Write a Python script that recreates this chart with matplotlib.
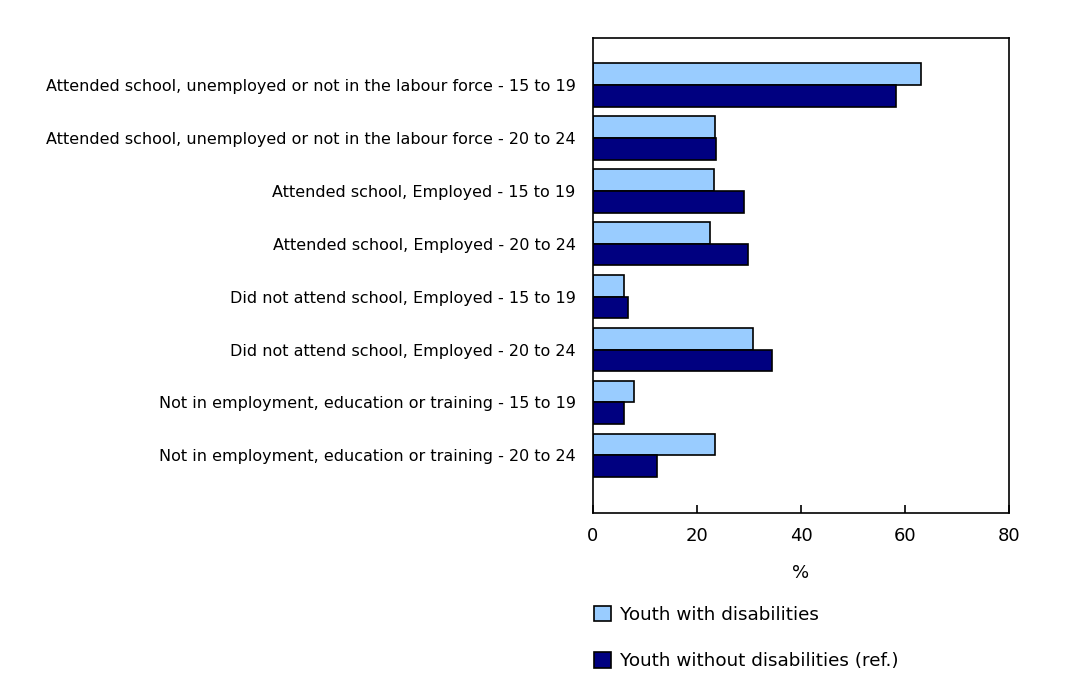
import matplotlib.pyplot as plt
import numpy as np
from matplotlib.patches import Patch

categories = [
    'Attended school, unemployed or not in the labour force - 15 to 19',
    'Attended school, unemployed or not in the labour force - 20 to 24',
    'Attended school, Employed - 15 to 19',
    'Attended school, Employed - 20 to 24',
    'Did not attend school, Employed - 15 to 19',
    'Did not attend school, Employed - 20 to 24',
    'Not in employment, education or training - 15 to 19',
    'Not in employment, education or training - 20 to 24',
]
with_dis = [63.0, 23.5, 23.2, 22.5, 5.9, 30.7, 7.8, 23.4]
without_dis = [58.3, 23.7, 29.1, 29.8, 6.8, 34.5, 6.0, 12.3]
series_names = ['Youth with disabilities', 'Youth without disabilities (ref.)']
light = '#99CCFF'
dark = '#000080'

plt.rcParams['font.family'] = ['DejaVu Sans']

fig = plt.figure(figsize=(10.85, 6.82), dpi=100)
ax = fig.add_axes([593 / 1085, 1 - 513 / 682, 416 / 1085, 475 / 682])

y = np.arange(len(categories))
h = 0.41
ax.barh(y - h / 2, with_dis, height=h, color=light, edgecolor='black', linewidth=1.2)
ax.barh(y + h / 2, without_dis, height=h, color=dark, edgecolor='black', linewidth=1.2)

ax.set_xlim(0, 80)
ax.set_ylim(8.09, -0.89)
ax.set_xticks([0, 20, 40, 60, 80])
ax.tick_params(axis='x', direction='in', length=6, width=1.2, labelsize=13, pad=10)
ax.set_yticks(y)
ax.set_yticklabels(categories, fontsize=11.5)
ax.tick_params(axis='y', length=0, pad=12.5)
for s in ax.spines.values():
    s.set_linewidth(1.2)
ax.set_xlabel('%', fontsize=13, labelpad=14)

handles = [Patch(facecolor=light, edgecolor='black', linewidth=1.2),
           Patch(facecolor=dark, edgecolor='black', linewidth=1.2)]
fig.legend(handles, series_names, loc='upper left', bbox_to_anchor=(577 / 1085, 1 - 589 / 682),
           frameon=False, fontsize=13.2, handlelength=0.95, handleheight=0.95,
           handletextpad=0.5, labelspacing=1.55)

fig.savefig('out.png', dpi=100)
